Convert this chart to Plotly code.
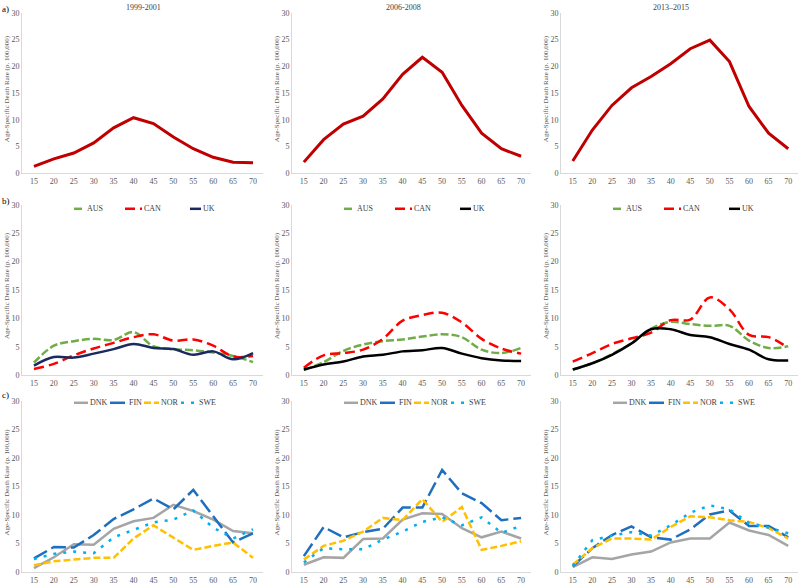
import plotly.graph_objects as go

# ---------------- data ----------------
ages = [15, 20, 25, 30, 35, 40, 45, 50, 55, 60, 65, 70]
periods = ["1999-2001", "2006-2008", "2013\u20132015"]
row_labels = ["a)", "b)", "c)"]

# row a) : overall
a_1999 = [1.3, 2.7, 3.8, 5.7, 8.5, 10.4, 9.3, 6.8, 4.6, 3.0, 2.1, 2.0]
a_2006 = [2.1, 6.3, 9.2, 10.7, 13.9, 18.5, 21.7, 18.9, 12.7, 7.5, 4.6, 3.2]
a_2013 = [2.3, 8.1, 12.7, 16.0, 18.1, 20.5, 23.3, 24.9, 20.9, 12.5, 7.5, 4.6]

# row b) : AUS / CAN / UK
b_names = ["AUS", "CAN", "UK"]
b_aus_1999 = [2.2, 5.2, 6.0, 6.4, 6.2, 7.6, 5.1, 4.6, 4.4, 4.0, 3.4, 2.3]
b_can_1999 = [1.1, 2.0, 3.5, 4.7, 5.7, 6.7, 7.2, 6.1, 6.3, 5.2, 3.3, 3.4]
b_uk_1999 = [1.7, 3.2, 3.1, 3.8, 4.6, 5.5, 4.8, 4.6, 3.6, 4.2, 2.8, 3.9]
b_aus_2006 = [0.9, 2.3, 4.3, 5.4, 6.0, 6.3, 6.8, 7.2, 6.7, 4.5, 3.9, 4.8]
b_can_2006 = [1.3, 3.5, 3.9, 4.5, 6.4, 9.6, 10.6, 11.0, 9.3, 6.4, 4.7, 3.8]
b_uk_2006 = [1.0, 1.9, 2.4, 3.3, 3.6, 4.2, 4.4, 4.8, 3.8, 3.0, 2.6, 2.5]
b_aus_2013 = [1.0, 2.1, 3.7, 5.6, 8.2, 9.4, 9.0, 8.7, 8.7, 6.1, 4.8, 5.1]
b_can_2013 = [2.4, 3.9, 5.5, 6.5, 7.5, 9.7, 9.8, 13.7, 11.6, 7.1, 6.7, 4.8]
b_uk_2013 = [1.0, 2.1, 3.6, 5.6, 8.1, 8.1, 7.1, 6.7, 5.5, 4.5, 2.8, 2.6]

# row c) : DNK / FIN / NOR / SWE
c_names = ["DNK", "FIN", "NOR", "SWE"]
c_dnk_1999 = [0.7, 2.6, 4.9, 4.8, 7.6, 8.9, 9.5, 11.8, 10.7, 9.2, 7.2, 6.8]
c_fin_1999 = [2.4, 4.4, 4.3, 6.5, 9.3, 11.0, 12.9, 11.0, 14.4, 9.8, 5.2, 6.8]
c_nor_1999 = [1.2, 1.9, 2.2, 2.5, 2.5, 5.9, 8.2, 6.1, 3.9, 4.6, 5.2, 2.5]
c_swe_1999 = [2.3, 3.2, 3.6, 3.3, 6.1, 7.4, 8.7, 9.2, 10.8, 7.8, 5.9, 7.5]
c_dnk_2006 = [1.3, 2.6, 2.5, 5.8, 5.9, 9.2, 10.3, 10.2, 7.7, 6.1, 7.1, 5.9]
c_fin_2006 = [2.8, 7.9, 6.1, 7.0, 7.6, 11.3, 11.3, 17.9, 13.8, 12.1, 9.1, 9.5]
c_nor_2006 = [2.2, 4.6, 5.5, 7.1, 9.5, 9.1, 12.8, 8.8, 11.4, 3.9, 4.6, 5.4]
c_swe_2006 = [1.7, 4.2, 4.0, 4.0, 5.7, 7.1, 8.8, 9.6, 8.2, 9.6, 6.9, 8.1]
c_dnk_2013 = [0.9, 2.6, 2.3, 3.1, 3.6, 5.2, 5.9, 5.9, 8.7, 7.3, 6.5, 4.6]
c_fin_2013 = [1.0, 4.2, 6.5, 8.0, 6.1, 5.7, 7.5, 10.1, 10.8, 8.1, 8.1, 6.1]
c_nor_2013 = [1.3, 4.2, 5.9, 5.9, 5.7, 7.9, 9.8, 9.6, 9.1, 8.8, 7.7, 5.9]
c_swe_2013 = [1.1, 5.6, 6.4, 7.0, 6.4, 8.2, 10.4, 11.7, 11.0, 8.6, 7.8, 6.8]

y_ticks = [0, 5, 10, 15, 20, 25, 30]
y_title = "Age-Specific Death Rate (p. 100,000)"

# ---------------- styles ----------------
W, H = 800, 587
FONT = "Liberation Serif"
TICK_COL = "#595959"
AXIS_COL = "#D9D9D9"

def px(x):
    return x / W

def py(y):
    return 1 - y / H

# plot-area pixel boxes
col_px = [(22, 263), (292, 531), (561, 798)]
row_px = [(9, 172), (204, 377), (403, 577)]

style_a = dict(color="#C00000", width=3)
style_b = {
    "AUS": dict(color="#70AD47", width=2.5, dash="8px,3px"),
    "CAN": dict(color="#FF0000", width=2.5, dash="10px,5px"),
}
uk_colors = ["#1B2A5E", "#000000", "#000000"]
style_c = {
    "DNK": dict(color="#A5A5A5", width=2.5),
    "FIN": dict(color="#1F6FBF", width=2.5, dash="15px,5px"),
    "NOR": dict(color="#FFC000", width=2.5, dash="7px,3px"),
    "SWE": dict(color="#00B0F0", width=2.5, dash="3px,7px"),
}

rows_data = [
    [[("", a_1999)], [("", a_2006)], [("", a_2013)]],
    [
        [("AUS", b_aus_1999), ("CAN", b_can_1999), ("UK", b_uk_1999)],
        [("AUS", b_aus_2006), ("CAN", b_can_2006), ("UK", b_uk_2006)],
        [("AUS", b_aus_2013), ("CAN", b_can_2013), ("UK", b_uk_2013)],
    ],
    [
        [("DNK", c_dnk_1999), ("FIN", c_fin_1999), ("NOR", c_nor_1999), ("SWE", c_swe_1999)],
        [("DNK", c_dnk_2006), ("FIN", c_fin_2006), ("NOR", c_nor_2006), ("SWE", c_swe_2006)],
        [("DNK", c_dnk_2013), ("FIN", c_fin_2013), ("NOR", c_nor_2013), ("SWE", c_swe_2013)],
    ],
]

def line_style(r, c, name):
    if r == 0:
        return dict(style_a)
    if r == 1:
        if name == "UK":
            return dict(color=uk_colors[c], width=2.5)
        return dict(style_b[name])
    return dict(style_c[name])

fig = go.Figure()
layout = dict(
    width=W, height=H,
    margin=dict(l=0, r=0, t=0, b=0),
    paper_bgcolor="white", plot_bgcolor="white",
    showlegend=False,
    font=dict(family=FONT, size=8, color=TICK_COL),
)
annotations = []
shapes = []

for r in range(3):
    for c in range(3):
        k = r * 3 + c + 1
        sfx = "" if k == 1 else str(k)
        for name, vals in rows_data[r][c]:
            fig.add_trace(go.Scatter(
                x=ages, y=vals, mode="lines", name=name or periods[c],
                line=line_style(r, c, name),
                line_shape="spline" if r == 1 else "linear",
                xaxis="x" + sfx, yaxis="y" + sfx,
                hoverinfo="x+y+name",
            ))
        x0, x1 = col_px[c]
        y0, y1 = row_px[r]
        layout["xaxis" + sfx] = dict(
            domain=[px(x0), px(x1)], anchor="y" + sfx,
            range=[12, 72.5], tickmode="array", tickvals=ages,
            showline=True, linecolor=AXIS_COL, linewidth=1,
            showgrid=False, zeroline=False, ticks="",
            tickfont=dict(family=FONT, size=8, color=TICK_COL),
            fixedrange=True,
        )
        layout["yaxis" + sfx] = dict(
            domain=[py(y1), py(y0)], anchor="x" + sfx,
            range=[0, 30], tickmode="array", tickvals=y_ticks,
            showline=True, linecolor=AXIS_COL, linewidth=1,
            showgrid=False, zeroline=False, ticks="",
            tickfont=dict(family=FONT, size=8, color=TICK_COL),
            fixedrange=True,
        )
        # y axis title
        annotations.append(dict(
            text=y_title, textangle=-90, showarrow=False,
            x=px(x0 - 15), y=py((y0 + y1) / 2 - 4),
            xref="paper", yref="paper", xanchor="center", yanchor="middle",
            font=dict(family=FONT, size=7, color=TICK_COL),
        ))

# panel titles
title_x = [143, 403, 671]
for c in range(3):
    annotations.append(dict(
        text=periods[c], showarrow=False, x=px(title_x[c]), y=py(4),
        xref="paper", yref="paper", xanchor="center", yanchor="middle",
        font=dict(family=FONT, size=8, color="#404040"),
    ))

# row labels
row_label_y = [5, 200, 397]
for r in range(3):
    annotations.append(dict(
        text=row_labels[r], showarrow=False, x=0, y=py(row_label_y[r]),
        xref="paper", yref="paper", xanchor="left", yanchor="middle",
        font=dict(family=FONT, size=9, color="#000000"),
    ))

# legends (key line + label) for rows b and c
leg_b = [("AUS", 52, 63), ("CAN", 103, 120), ("UK", 168, 179)]
leg_c = [("DNK", 52, 66), ("FIN", 88, 105), ("NOR", 122, 137), ("SWE", 159, 175)]
for r, leg, ly in [(1, leg_b, 208), (2, leg_c, 405)]:
    for c in range(3):
        ax = col_px[c][0]
        for name, s0, s1 in leg:
            st = line_style(r, c, name)
            ln = dict(color=st["color"], width=st["width"])
            if "dash" in st:
                ln["dash"] = st["dash"]
            shapes.append(dict(
                type="line", xref="paper", yref="paper",
                x0=px(ax + s0), x1=px(ax + s1), y0=py(ly), y1=py(ly), line=ln,
            ))
            annotations.append(dict(
                text=name, showarrow=False, x=px(ax + s1), y=py(ly),
                xref="paper", yref="paper", xanchor="left", yanchor="middle",
                font=dict(family=FONT, size=8, color="#404040"),
            ))

layout["annotations"] = annotations
layout["shapes"] = shapes
fig.update_layout(**layout)
fig.write_html(
    "out.html",
    config={"displayModeBar": False},
    post_script="document.body.style.margin='0';document.body.style.overflow='hidden';",
)
